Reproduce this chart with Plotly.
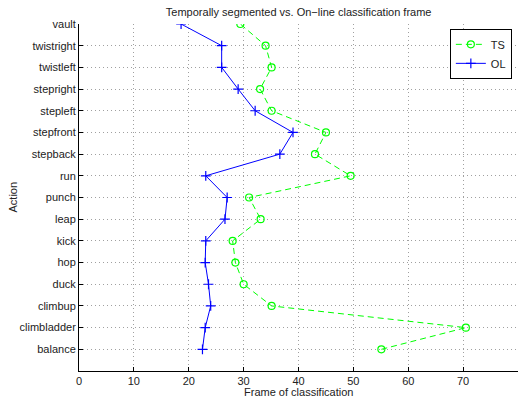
import plotly.graph_objects as go

actions = ["balance", "climbladder", "climbup", "duck", "hop", "kick", "leap",
           "punch", "run", "stepback", "stepfront", "stepleft", "stepright",
           "twistleft", "twistright", "vault"]
ts_frames = [55.1, 70.5, 35.1, 30.0, 28.5, 28.0, 33.1, 31.0, 49.5, 43.0, 45.0,
             35.1, 33.0, 35.1, 34.0, 29.4]
ol_frames = [22.5, 23.0, 24.0, 23.6, 23.0, 23.1, 26.6, 27.0, 23.1, 36.6, 39.0,
             32.1, 29.0, 26.0, 26.0, 18.6]
x_ticks = [0, 10, 20, 30, 40, 50, 60, 70, 80]

font_family = "Liberation Sans, Arial, Helvetica, sans-serif"
txt = "#222222"

fig = go.Figure()
fig.add_trace(go.Scatter(
    x=ts_frames, y=actions, mode="lines+markers", name="TS",
    line=dict(color="#00ff00", width=1, dash="6px,4px"),
    marker=dict(symbol="circle-open", size=7, color="#00ff00", line=dict(width=1.2)),
))
fig.add_trace(go.Scatter(
    x=ol_frames, y=actions, mode="lines+markers", name="OL",
    line=dict(color="#0000ff", width=1),
    marker=dict(symbol="cross-thin-open", size=7, color="#0000ff",
                line=dict(width=1.2, color="#0000ff")),
))

grid = dict(showgrid=True, gridcolor="#a0a0a0", griddash="1px,3px", gridwidth=1)

fig.update_layout(
    width=524, height=396,
    margin=dict(l=79, r=6, t=24, b=25, autoexpand=False),
    paper_bgcolor="white", plot_bgcolor="white",
    font=dict(family=font_family, size=11, color=txt),
    title=dict(text="Temporally segmented vs. On\u2212line classification frame",
               x=0.57, xanchor="center", y=0.97, yanchor="middle",
               font=dict(size=11, color=txt)),
    xaxis=dict(range=[0, 80], tickvals=x_ticks, ticks="inside", ticklen=4,
               tickcolor="black", showline=True, linecolor="black", linewidth=1,
               zeroline=False, automargin=False, **grid),
    yaxis=dict(type="category", categoryorder="array", categoryarray=actions,
               range=[-1, 15], ticks="inside", ticklen=4, tickcolor="black",
               showline=True, linecolor="black", linewidth=1, zeroline=False,
               automargin=False, **grid),
    legend=dict(x=0.986, y=0.986, xanchor="right", yanchor="top",
                bgcolor="white", bordercolor="black", borderwidth=1,
                font=dict(size=11), tracegroupgap=0, itemwidth=30,
                itemsizing="trace"),
    showlegend=True,
    annotations=[
        dict(text="Frame of classification", xref="paper", yref="paper",
             x=0.5, y=-0.0, yshift=-21, xanchor="center", yanchor="middle",
             showarrow=False, font=dict(size=11, color=txt)),
        dict(text="Action", xref="paper", yref="paper", x=0, xshift=-67,
             y=0.5, xanchor="center", yanchor="middle", textangle=-90,
             showarrow=False, font=dict(size=11, color=txt)),
    ],
)

fig.write_html("out.html", config={"displayModeBar": False},
               post_script="document.body.style.margin='0';document.body.style.overflow='hidden';")
